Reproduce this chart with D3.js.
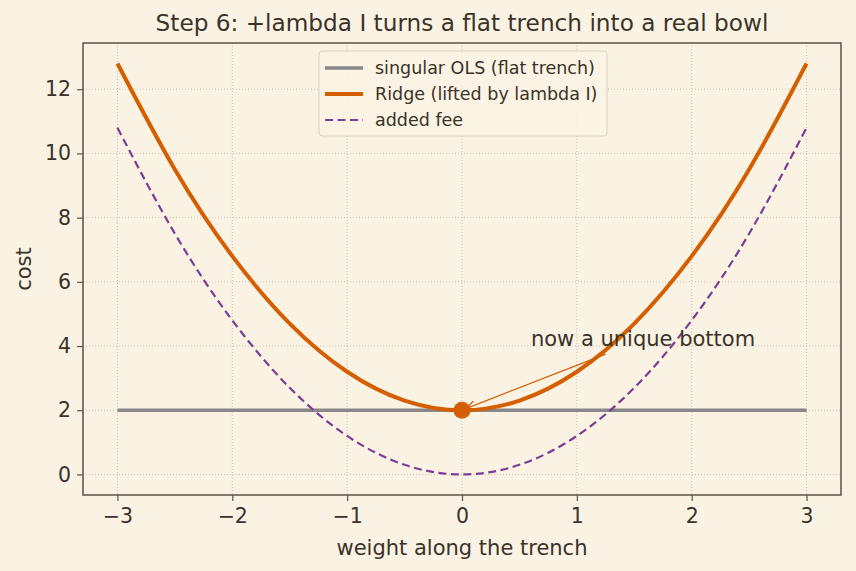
<!DOCTYPE html>
<html>
<head>
<meta charset="utf-8">
<title>Step 6 - Ridge bowl</title>
<script src="https://d3js.org/d3.v7.min.js"></script>
<style>
  body { margin: 0; background: #faf3e4; }
  text { font-family: "DejaVu Sans", sans-serif; fill: #3b3229; }
</style>
</head>
<body>
<div id="chart"></div>
<script>
// values
const weights   = [-3, -2.5, -2, -1.5, -1, -0.5, 0, 0.5, 1, 1.5, 2, 2.5, 3];
const olsCost   = [2, 2, 2, 2, 2, 2, 2, 2, 2, 2, 2, 2, 2];
const ridgeCost = [12.8, 9.5, 6.8, 4.7, 3.2, 2.3, 2.0, 2.3, 3.2, 4.7, 6.8, 9.5, 12.8];
const feeCost   = [10.8, 7.5, 4.8, 2.7, 1.2, 0.3, 0.0, 0.3, 1.2, 2.7, 4.8, 7.5, 10.8];
const xTicks = [-3, -2, -1, 0, 1, 2, 3];
const yTicks = [0, 2, 4, 6, 8, 10, 12];
const legendLabels = ["singular OLS (flat trench)", "Ridge (lifted by lambda I)", "added fee"];
const bottomPoint = [0, 2];
const noteText = "now a unique bottom";
const notePos = [0.6, 4.0];
const arrowFrom = [1.25, 3.75];
const arrowTo = [0.04, 2.06];

const W = 856, H = 571;
const margin = {top: 43, right: 15, bottom: 76, left: 83};
const iw = W - margin.left - margin.right;
const ih = H - margin.top - margin.bottom;

const svg = d3.select("#chart").append("svg")
  .attr("width", W).attr("height", H)
  .style("background", "#faf3e4");

const g = svg.append("g").attr("transform", `translate(${margin.left},${margin.top})`);

const x = d3.scaleLinear().domain([-3.3, 3.3]).range([0, iw]);
const y = d3.scaleLinear().domain([-0.64, 13.44]).range([ih, 0]);

// grid
g.append("g").selectAll("line").data(xTicks).join("line")
  .attr("x1", d => x(d)).attr("x2", d => x(d)).attr("y1", 0).attr("y2", ih)
  .attr("stroke", "#b5ad9c").attr("stroke-width", 0.7).attr("stroke-dasharray", "1,2");
g.append("g").selectAll("line").data(yTicks).join("line")
  .attr("y1", d => y(d)).attr("y2", d => y(d)).attr("x1", 0).attr("x2", iw)
  .attr("stroke", "#b5ad9c").attr("stroke-width", 0.7).attr("stroke-dasharray", "1,2");

const line = (vals) => d3.line()
  .x((d, i) => x(weights[i])).y(d => y(d))
  .curve(d3.curveNatural)(vals);

g.append("path").attr("d", line(olsCost))
  .attr("fill", "none").attr("stroke", "#888888").attr("stroke-width", 3.5);
g.append("path").attr("d", line(feeCost))
  .attr("fill", "none").attr("stroke", "#7d3c98").attr("stroke-width", 2.2)
  .attr("stroke-dasharray", "8,4.5");
g.append("path").attr("d", line(ridgeCost))
  .attr("fill", "none").attr("stroke", "#d55e00").attr("stroke-width", 4);

g.append("circle").attr("cx", x(bottomPoint[0])).attr("cy", y(bottomPoint[1]))
  .attr("r", 8.5).attr("fill", "#d55e00");

// annotation
const defs = svg.append("defs");
defs.append("marker").attr("id", "head")
  .attr("viewBox", "0 0 10 10").attr("refX", 10).attr("refY", 5)
  .attr("markerWidth", 7).attr("markerHeight", 7).attr("orient", "auto")
  .append("path").attr("d", "M0,0 L10,5 L0,10").attr("fill", "none")
  .attr("stroke", "#d55e00").attr("stroke-width", 1.5);
g.append("line")
  .attr("x1", x(arrowFrom[0])).attr("y1", y(arrowFrom[1]))
  .attr("x2", x(arrowTo[0])).attr("y2", y(arrowTo[1]))
  .attr("stroke", "#d55e00").attr("stroke-width", 1.3)
  .attr("marker-end", "url(#head)");
g.append("text").attr("x", x(notePos[0])).attr("y", y(notePos[1]))
  .attr("font-size", 21).text(noteText);

// axes
const xAxis = g.append("g").attr("transform", `translate(0,${ih})`)
  .call(d3.axisBottom(x).tickValues(xTicks).tickSize(6).tickPadding(7)
    .tickFormat(d => d < 0 ? "\u2212" + Math.abs(d) : d));
const yAxis = g.append("g")
  .call(d3.axisLeft(y).tickValues(yTicks).tickSize(6).tickPadding(6));
[xAxis, yAxis].forEach(a => {
  a.select(".domain").remove();
  a.selectAll("line").attr("stroke", "#5c5344").attr("stroke-width", 1.2);
  a.selectAll("text").attr("font-size", 20.5).attr("fill", "#3b3229")
    .style("font-family", "DejaVu Sans, sans-serif");
});

g.append("rect").attr("width", iw).attr("height", ih)
  .attr("fill", "none").attr("stroke", "#5c5344").attr("stroke-width", 1.5);

// legend
const lg = g.append("g").attr("transform", `translate(${x(-3.3) + 236},8)`);
lg.append("rect").attr("width", 288).attr("height", 85).attr("rx", 3)
  .attr("fill", "#faf3e4").attr("fill-opacity", 0.85)
  .attr("stroke", "#d8d0c0").attr("stroke-width", 1);
const lstyles = [
  {c: "#888888", w: 3.5, dash: null},
  {c: "#d55e00", w: 4, dash: null},
  {c: "#7d3c98", w: 2.2, dash: "8,4.5"}
];
legendLabels.forEach((lab, i) => {
  const yy = 17 + i * 26;
  lg.append("line").attr("x1", 6).attr("x2", 44).attr("y1", yy).attr("y2", yy)
    .attr("stroke", lstyles[i].c).attr("stroke-width", lstyles[i].w)
    .attr("stroke-dasharray", lstyles[i].dash);
  lg.append("text").attr("x", 56).attr("y", yy + 6).attr("font-size", 17.5).text(lab);
});

// labels
svg.append("text").attr("x", margin.left + iw / 2).attr("y", 31)
  .attr("text-anchor", "middle").attr("font-size", 23.2)
  .text("Step 6: +lambda I turns a flat trench into a real bowl");
svg.append("text").attr("x", margin.left + iw / 2).attr("y", 555)
  .attr("text-anchor", "middle").attr("font-size", 21).text("weight along the trench");
svg.append("text").attr("transform", `translate(31,${margin.top + ih / 2}) rotate(-90)`)
  .attr("text-anchor", "middle").attr("font-size", 21).text("cost");
</script>
</body>
</html>
